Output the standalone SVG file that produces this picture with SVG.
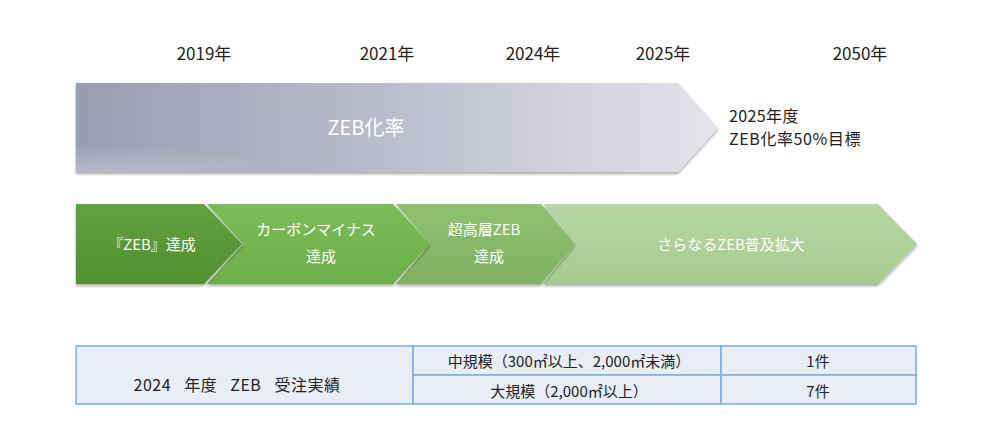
<svg xmlns="http://www.w3.org/2000/svg" width="1000" height="441" viewBox="0 0 1000 441">
<defs>
<style>
text{font-family:"Noto Sans CJK JP","Noto Sans",sans-serif;}
.yr{font-size:17px;fill:#222;text-anchor:middle;}
.wt{font-size:15px;fill:#fff;text-anchor:middle;}
.dk{font-size:15px;fill:#222;text-anchor:middle;}
.cell{fill:#e8edf6;stroke:#7aaee0;stroke-width:1.5;}
</style>
<linearGradient id="gGrey" x1="0" y1="0" x2="1" y2="0">
<stop offset="0" stop-color="#9a9db2"/>
<stop offset="0.5" stop-color="#bcbecc"/>
<stop offset="1" stop-color="#e4e4ea"/>
</linearGradient>
<radialGradient id="gGreyR" cx="0.03" cy="1" r="0.3">
<stop offset="0" stop-color="#ffffff" stop-opacity="0.3"/>
<stop offset="1" stop-color="#ffffff" stop-opacity="0"/>
</radialGradient>
<linearGradient id="g1" x1="0" y1="0" x2="0" y2="1">
<stop offset="0" stop-color="#62a23f"/>
<stop offset="1" stop-color="#518f30"/>
</linearGradient>
<linearGradient id="g2" x1="0" y1="0" x2="0" y2="1">
<stop offset="0" stop-color="#7cbd58"/>
<stop offset="1" stop-color="#6cae48"/>
</linearGradient>
<linearGradient id="g3" x1="0" y1="0" x2="0" y2="1">
<stop offset="0" stop-color="#90c173"/>
<stop offset="1" stop-color="#80b262"/>
</linearGradient>
<linearGradient id="g4" x1="0" y1="0" x2="0" y2="1">
<stop offset="0" stop-color="#b8d7a6"/>
<stop offset="1" stop-color="#a6cb90"/>
</linearGradient>
<filter id="sh" x="-5%" y="-10%" width="110%" height="125%">
<feDropShadow dx="0" dy="2" stdDeviation="1.5" flood-color="#000" flood-opacity="0.35"/>
</filter>
</defs>

<g id="years">
<text class="yr" x="204" y="60">2019年</text>
<text class="yr" x="387" y="60">2021年</text>
<text class="yr" x="533" y="60">2024年</text>
<text class="yr" x="663" y="60">2025年</text>
<text class="yr" x="860" y="60">2050年</text>
</g>

<g id="zeb-rate">
<path d="M76 83 H678 L718 128 L678 172 H76 Z" fill="url(#gGrey)" filter="url(#sh)"/>
<path d="M76 83 H678 L718 128 L678 172 H76 Z" fill="url(#gGreyR)"/>
<text x="366" y="135" style="font-size:20px;fill:#fff;text-anchor:middle">ZEB化率</text>
</g>

<g id="target">
<text x="729" y="122" style="font-size:16px;fill:#222;letter-spacing:0.4px">2025年度</text>
<text x="729" y="145" style="font-size:16px;fill:#222;letter-spacing:0.6px">ZEB化率50%目標</text>
</g>

<g id="step4">
<path d="M543 204 H878 L917 244 L878 284 H543 L575 244 Z" fill="url(#g4)" filter="url(#sh)"/>
<text class="wt" x="731" y="250">さらなるZEB普及拡大</text>
</g>
<g id="step3">
<path d="M396 204 H541 L575 244 L541 284 H396 L430 244 Z" fill="url(#g3)" filter="url(#sh)"/>
<text class="wt" x="484" y="235">超高層ZEB</text>
<text class="wt" x="489" y="262">達成</text>
</g>
<g id="step2">
<path d="M207 204 H393 L430 244 L393 284 H207 L243 244 Z" fill="url(#g2)" filter="url(#sh)"/>
<text class="wt" x="316" y="235">カーボンマイナス</text>
<text class="wt" x="321" y="262">達成</text>
</g>
<g id="step1">
<path d="M76 204 H204 L242 244 L204 284 H76 Z" fill="url(#g1)" filter="url(#sh)"/>
<text class="wt" x="152" y="250">『ZEB』達成</text>
</g>

<g id="table">
<rect class="cell" x="76" y="346" width="337" height="58"/>
<rect class="cell" x="413" y="346" width="308" height="29"/>
<rect class="cell" x="413" y="375" width="308" height="29"/>
<rect class="cell" x="721" y="346" width="195" height="29"/>
<rect class="cell" x="721" y="375" width="195" height="29"/>
<text x="237" y="391" style="font-size:16px;fill:#222;text-anchor:middle;word-spacing:9px;letter-spacing:0.5px" xml:space="preserve">2024 年度 ZEB 受注実績</text>
<text class="dk" x="569" y="367">中規模（300㎡以上、2,000㎡未満）</text>
<text class="dk" x="569" y="397">大規模（2,000㎡以上）</text>
<text class="dk" x="818" y="367">1件</text>
<text class="dk" x="818" y="397">7件</text>
</g>
<g id="connectors"/>
</svg>
